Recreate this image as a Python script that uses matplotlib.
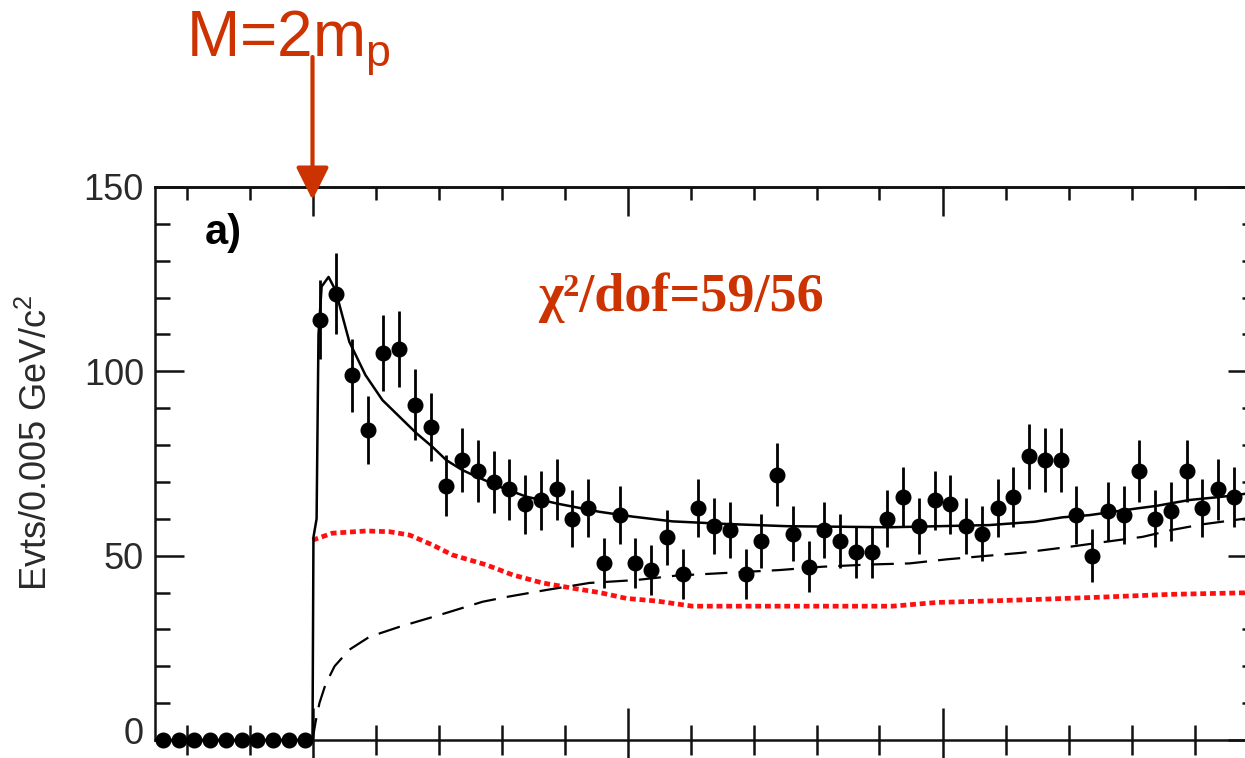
import numpy as np
import matplotlib
matplotlib.use("Agg")
import matplotlib.pyplot as plt
import matplotlib.transforms as mtransforms
from matplotlib.ticker import MultipleLocator

plt.rcParams['font.family'] = ['Liberation Sans', 'DejaVu Sans']

# ---------------- data ----------------
bin_width = 0.005
x_min, x_max = -0.05, 0.30

# counts below threshold (10 bins) and above threshold (59 bins)
counts_below = [0, 0, 0, 0, 0, 0, 0, 0, 0, 0]
counts_above = [114, 121, 99, 84, 105, 106, 91, 85, 69, 76,
                73, 70, 68, 64, 65, 68, 60, 63, 48, 61,
                48, 46, 55, 45, 63, 58, 57, 45, 54, 72,
                56, 47, 57, 54, 51, 51, 60, 66, 58, 65,
                64, 58, 56, 63, 66, 77, 76, 76, 61, 50,
                62, 61, 73, 60, 62, 73, 63, 68, 66]
errors_above = [10.7, 11.0, 9.9, 9.2, 10.2, 10.3, 9.5, 9.2, 8.3, 8.7,
                8.5, 8.4, 8.2, 8.0, 8.1, 8.2, 7.7, 7.9, 6.9, 7.8,
                6.9, 6.8, 7.4, 6.7, 7.9, 7.6, 7.5, 6.7, 7.3, 8.5,
                7.5, 6.9, 7.5, 7.3, 7.1, 7.1, 7.7, 8.1, 7.6, 8.1,
                8.0, 7.6, 7.5, 7.9, 8.1, 8.8, 8.7, 8.7, 7.8, 7.1,
                7.9, 7.8, 8.5, 7.7, 7.9, 8.5, 7.9, 8.2, 8.1]

# total fit (solid)
fit_x = [-0.05, 0.0, 0.0003, 0.0013, 0.0019, 0.0029, 0.0051, 0.0073, 0.0117, 0.0168,
         0.0222, 0.0276, 0.0330, 0.0381, 0.0425, 0.0476, 0.0530, 0.0594, 0.0679,
         0.0784, 0.0911, 0.1016, 0.1143, 0.1314, 0.1505, 0.1832, 0.2149, 0.2292,
         0.2381, 0.2467, 0.2616, 0.2679, 0.2784, 0.2889, 0.30]
fit_y = [0, 0, 55, 60, 110, 123, 125.6, 122, 108, 99,
         92.2, 87.7, 83.2, 79.5, 75.9, 73.2, 71.1, 68.7, 66,
         64, 61.9, 60.6, 59.3, 58.6, 58.0, 57.7, 58.3, 59.2,
         60.4, 61, 62.8, 63.5, 65.1, 66.0, 67.2]

# background (dashed)
bkg_x = [0.0, 0.001, 0.0022, 0.0041, 0.0070, 0.0117, 0.0181, 0.0276, 0.0403, 0.0540,
         0.0616, 0.0743, 0.0879, 0.1029, 0.1156, 0.1483, 0.1619, 0.1768, 0.1895,
         0.2013, 0.2254, 0.2403, 0.2521, 0.2635, 0.2730, 0.2825, 0.30]
bkg_y = [0, 5, 10, 15, 20, 24.5, 28, 30.7, 33.9, 37.5,
         38.8, 40.7, 42.6, 43.4, 44.6, 46.1, 47.0, 47.6, 47.9,
         49.0, 50.8, 52.4, 53.8, 55.1, 57.0, 58.5, 60.5]

# red dotted curve
red_x = [0.0, 0.0063, 0.0171, 0.0244, 0.0308, 0.0381, 0.0444, 0.0552, 0.0635, 0.0730,
         0.0838, 0.0911, 0.0997, 0.1092, 0.1206, 0.1841, 0.1981, 0.2254, 0.2489,
         0.2721, 0.30]
red_y = [54.2, 56.1, 56.7, 56.5, 55.6, 52.9, 50.2, 47.5, 44.8, 42.6,
         41.0, 40.0, 38.4, 37.7, 36.3, 36.3, 37.3, 38.0, 38.7,
         39.5, 40.0]

y_ticks = [0, 50, 100, 150]
y_tick_labels = ['0', '50', '100', '150']

# ---------------- figure ----------------
W, H = 1245, 758
fig = plt.figure(figsize=(W / 100, H / 100), dpi=100)
ax_left = 155 / W
ax_right = 1257.5 / W
ax_bottom = (H - 740) / H
ax_top = (H - 187) / H
ax = fig.add_axes([ax_left, ax_bottom, ax_right - ax_left, ax_top - ax_bottom])

x_below = x_min + bin_width * (np.arange(len(counts_below)) + 0.5)
x_above = bin_width * (np.arange(len(counts_above)) + 0.5)

red_col = '#FF1010'
ax.plot(red_x, red_y, color=red_col, lw=3.4, dashes=(1.25, 0.8),
        solid_capstyle='butt', dash_capstyle='butt', zorder=2)
ax.plot(bkg_x, bkg_y, color='black', lw=1.6, dashes=(10, 5), zorder=3)
ax.plot(fit_x, fit_y, color='black', lw=1.8, zorder=4)

ax.errorbar(x_above, counts_above, yerr=errors_above, fmt='o', color='black',
            ms=10.5, elinewidth=2.0, capsize=0, zorder=5)
ax.plot(x_below, counts_below, 'o', color='black', ms=10.5, clip_on=False, zorder=5)

ax.set_xlim(x_min, x_max)
ax.set_ylim(0, 150)

ax.set_yticks(y_ticks)
ax.set_yticklabels(y_tick_labels)
ax.yaxis.set_minor_locator(MultipleLocator(10))
ax.xaxis.set_major_locator(MultipleLocator(0.1))
ax.xaxis.set_minor_locator(MultipleLocator(0.02))

tick_col = '#111111'
ax.tick_params(axis='y', which='major', direction='in', length=21, width=1.8,
               left=True, right=True, labelsize=26, pad=8, labelcolor='#2a2a2a',
               color=tick_col)
ax.tick_params(axis='y', which='minor', direction='in', length=10.5, width=1.8,
               left=True, right=True, color=tick_col)
ax.tick_params(axis='x', which='major', direction='inout', length=46, width=1.8,
               bottom=True, top=False, labelbottom=False, color=tick_col)
ax.tick_params(axis='x', which='minor', direction='inout', length=21, width=1.8,
               bottom=True, top=False, color=tick_col)

# keep the "0" label inside the canvas
zero_lbl = ax.get_yticklabels()[0]
zero_lbl.set_verticalalignment('baseline')
zero_lbl.set_transform(zero_lbl.get_transform() +
                       mtransforms.ScaledTranslation(0, -4 / 100, fig.dpi_scale_trans))

sec = ax.secondary_xaxis('top')
sec.xaxis.set_major_locator(MultipleLocator(0.1))
sec.xaxis.set_minor_locator(MultipleLocator(0.02))
sec.tick_params(axis='x', which='major', direction='in', length=21, width=1.8,
                labeltop=False, color=tick_col)
sec.tick_params(axis='x', which='minor', direction='in', length=9.5, width=1.8,
                color=tick_col)
sec.spines['top'].set_linewidth(1.8)

for s in ax.spines.values():
    s.set_linewidth(1.8)
    s.set_color(tick_col)

# y label
fig.text(37 / W, 1 - 443 / H, r'Evts/0.005 GeV/c$^{\mathregular{2}}$', rotation=90,
         ha='center', va='center', fontsize=26, color='#2a2a2a')

# panel label
ax.text(205 / W, 1 - 244 / H, 'a)', transform=fig.transFigure, fontsize=30,
        fontweight='bold', ha='left', va='baseline', color='black')

# chi2 text
accent = '#CC3300'
fig.text(538 / W, 1 - 311 / H, 'χ²/dof=59/56', fontsize=39, fontweight='bold',
         family=['Liberation Serif', 'DejaVu Serif'], color=accent,
         ha='left', va='baseline')

# threshold annotation
fig.text(186 / W, 1 - 57 / H, r'M=2m$_\mathregular{p}$', fontsize=46, color=accent,
         ha='left', va='baseline')

px_per_unit = (740 - 187) / 150.0
y_tail = 150 + (187 - 57) / px_per_unit
y_tip = 150 - (200 - 187) / px_per_unit
ax.annotate('', xy=(0.0, y_tip), xytext=(0.0, y_tail),
            arrowprops=dict(arrowstyle='-|>,head_length=1.0,head_width=0.5',
                            color=accent, lw=3, shrinkA=0, shrinkB=0,
                            mutation_scale=20),
            annotation_clip=False, zorder=10)

fig.savefig('out.png', dpi=100)
